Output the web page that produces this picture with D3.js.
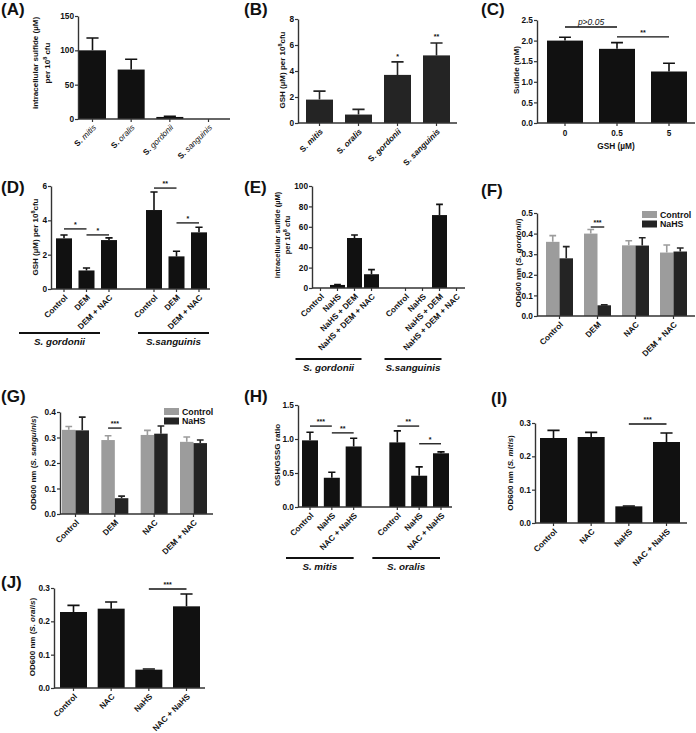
<!DOCTYPE html>
<html>
<head>
<meta charset="utf-8">
<script src="https://cdn.jsdelivr.net/npm/d3@7"></script>
<style>
body { margin: 0; background: #fff; }
svg text { font-family: "Liberation Sans", Arial, sans-serif; font-weight: bold; fill: #111; }
</style>
</head>
<body>
<script>
// ---- data ----
var species = ["mitis", "oralis", "gordonii", "sanguinis"];
var sulfideMean = [100, 72, 3, 0];
var sulfideSem = [18, 15, 1, 0];
var gshMean = [1.8, 0.65, 3.7, 5.2];
var gshSem = [0.65, 0.4, 1.0, 0.95];

var gshDose = ["0", "0.5", "5"];
var sulfideByGsh = [2.0, 1.8, 1.25];
var sulfideByGshSem = [0.08, 0.15, 0.2];

var demTreat = ["Control", "DEM", "DEM + NAC"];
var gshGordonii = [2.95, 1.08, 2.85];
var gshGordoniiSem = [0.2, 0.14, 0.13];
var gshSanguinis = [4.6, 1.9, 3.3];
var gshSanguinisSem = [1.05, 0.3, 0.3];

var nahsTreat = ["Control", "NaHS", "NaHS + DEM", "NaHS + DEM + NAC"];
var sulfGordonii = [0, 3, 49, 13.5];
var sulfGordoniiSem = [0, 0.5, 3, 4.5];
var sulfSanguinis = [0, 0, 71.5, 0];
var sulfSanguinisSem = [0, 0, 10.5, 0];

var odGroups = ["Control", "DEM", "NAC", "DEM + NAC"];
var odSeries = ["Control", "NaHS"];
var odGordCtrl = [0.36, 0.40, 0.343, 0.308];
var odGordCtrlSem = [0.03, 0.02, 0.022, 0.037];
var odGordNahs = [0.28, 0.052, 0.342, 0.313];
var odGordNahsSem = [0.057, 0.002, 0.038, 0.017];
var odSangCtrl = [0.33, 0.29, 0.31, 0.283];
var odSangCtrlSem = [0.013, 0.017, 0.018, 0.019];
var odSangNahs = [0.328, 0.062, 0.315, 0.278];
var odSangNahsSem = [0.052, 0.008, 0.03, 0.012];

var ratioTreat = ["Control", "NaHS", "NAC + NaHS"];
var ratioMitis = [0.98, 0.43, 0.89];
var ratioMitisSem = [0.12, 0.08, 0.12];
var ratioOralis = [0.95, 0.46, 0.79];
var ratioOralisSem = [0.17, 0.13, 0.02];

var rescueTreat = ["Control", "NAC", "NaHS", "NAC + NaHS"];
var odMitis = [0.255, 0.258, 0.05, 0.243];
var odMitisSem = [0.023, 0.014, 0.001, 0.027];
var odOralis = [0.228, 0.238, 0.055, 0.245];
var odOralisSem = [0.02, 0.02, 0.002, 0.037];

var black = "#111", dark = "#242424", grey = "#9c9c9c";

var svg = d3.select("body").append("svg").attr("width", 696).attr("height", 733);
svg.append("rect").attr("width", 696).attr("height", 733).attr("fill", "#fff");

// rich text: parts = [[text, kind]], kind: "i" italic, "s" superscript, "l" light italic
function rich(t, parts) {
  var shifted = false;
  parts.forEach(function(p) {
    var ts = t.append("tspan").text(p[0]);
    if (p[1] == "i") ts.style("font-style", "italic");
    if (p[1] == "l") ts.style("font-style", "italic").style("font-weight", "normal");
    if (p[1] == "s") { ts.attr("dy", -3).attr("font-size", 5.5); shifted = true; }
    else if (shifted) { ts.attr("dy", 3); shifted = false; }
  });
}

function panel(o) {
  var g = svg.append("g");
  var y = d3.scaleLinear().domain([0, o.max]).range([o.y0, o.yTop]);
  var s = (o.right - o.left - o.bw) / (o.n - 1);
  var x = d3.scaleBand().domain(d3.range(o.n)).range([o.left, o.right]).paddingInner(1 - o.bw / s).paddingOuter(0);
  var sub = o.sub || 1, w = x.bandwidth() / sub;
  function cx(i, k) { return x(i) + (k == null ? x.bandwidth() / 2 : w * (k + 0.5)); }

  o.series.forEach(function(ser, k) {
    var kk = sub > 1 ? k : null;
    var pts = ser.slots.map(function(sl, j) { return {slot: sl, v: ser.v[j], e: ser.e[j]}; })
      .filter(function(d) { return d.v > 0; });
    g.selectAll(null).data(pts).join("rect")
      .attr("x", function(d) { return sub > 1 ? x(d.slot) + w * k : x(d.slot); })
      .attr("width", w)
      .attr("y", function(d) { return y(d.v); })
      .attr("height", function(d) { return o.y0 - y(d.v); })
      .attr("fill", ser.color);
    var cap = w * (o.cap || 0.45);
    g.selectAll(null).data(pts.filter(function(d) { return d.e > 0; })).join("path")
      .attr("d", function(d) {
        var c = cx(d.slot, kk), t = y(d.v + d.e);
        return "M" + c + "," + y(d.v) + "V" + t + "M" + (c - cap / 2) + "," + t + "H" + (c + cap / 2);
      })
      .attr("stroke", ser.color).attr("stroke-width", 1.6).attr("fill", "none");
  });

  // y axis
  var ya = g.append("g").attr("transform", "translate(" + o.x0 + ",0)")
    .call(d3.axisLeft(y).tickValues(o.ticks).tickFormat(o.fmt).tickSize(3).tickSizeOuter(0));
  ya.attr("font-family", null).attr("font-size", 8.3);
  ya.select(".domain").attr("stroke", "#333").attr("stroke-width", 1.4);
  ya.selectAll(".tick line").attr("stroke", "#333").attr("stroke-width", 1.2);
  ya.selectAll(".tick text").attr("x", -4).attr("fill", "#111");

  // x axis
  g.append("line").attr("x1", o.x0).attr("x2", o.x1).attr("y1", o.y0).attr("y2", o.y0)
    .attr("stroke", "#333").attr("stroke-width", 1.4);
  g.selectAll(null).data(o.labels).join("line")
    .attr("x1", function(d) { return cx(d.slot); }).attr("x2", function(d) { return cx(d.slot); })
    .attr("y1", o.y0).attr("y2", o.y0 + 3).attr("stroke", "#333").attr("stroke-width", 1.2);
  o.labels.forEach(function(d) {
    var t = g.append("text").attr("font-size", 8.2);
    if (o.flat) {
      t.attr("x", cx(d.slot)).attr("y", o.y0 + 13).attr("text-anchor", "middle");
    } else {
      t.attr("text-anchor", "end").attr("dy", "0.35em")
        .attr("transform", "translate(" + (cx(d.slot) + 2) + "," + (o.y0 + 7) + ") rotate(-45)");
    }
    rich(t, d.parts);
  });
  if (o.xTitle) {
    var xt = g.append("text").attr("font-size", 8.3).attr("text-anchor", "middle")
      .attr("x", (o.x0 + o.x1) / 2).attr("y", o.y0 + 26);
    rich(xt, o.xTitle);
  }

  // y title
  o.title.lines.forEach(function(line, i) {
    var t = g.append("text").attr("font-size", o.title.size || 8).attr("text-anchor", "middle")
      .attr("transform", "translate(" + o.title.x[i] + "," + o.title.y + ") rotate(-90)");
    rich(t, line);
  });

  // significance brackets
  (o.sig || []).forEach(function(a) {
    var yy = y(a.v), xa = cx(a.a[0], a.a[1]), xb = cx(a.b[0], a.b[1]);
    g.append("line").attr("x1", xa).attr("x2", xb).attr("y1", yy).attr("y2", yy)
      .attr("stroke", "#111").attr("stroke-width", 1.3);
    var t = g.append("text").attr("x", (xa + xb) / 2).attr("y", yy - 2).attr("text-anchor", "middle")
      .attr("font-size", a.italic ? 8.5 : 7);
    if (a.italic) t.style("font-style", "italic").style("font-weight", "normal");
    t.text(a.label);
  });
  // stars above bars
  (o.stars || []).forEach(function(a) {
    g.append("text").attr("x", cx(a.slot)).attr("y", y(a.v)).attr("text-anchor", "middle")
      .attr("font-size", 7).text(a.label);
  });

  // group underlines
  (o.groups || []).forEach(function(gr) {
    var xa = cx(gr.from) + gr.dl, xb = cx(gr.to) + gr.dr;
    g.append("line").attr("x1", xa).attr("x2", xb).attr("y1", o.y0 + gr.dy).attr("y2", o.y0 + gr.dy)
      .attr("stroke", "#111").attr("stroke-width", 1.8);
    g.append("text").attr("x", (xa + xb) / 2).attr("y", o.y0 + gr.dy + 12).attr("text-anchor", "middle")
      .attr("font-size", 9.8).style("font-style", "italic").text(gr.text);
  });

  // legend
  if (o.legend) {
    o.legend.names.forEach(function(nm, i) {
      var ly = o.legend.y + i * 9.5;
      g.append("rect").attr("x", o.legend.x).attr("y", ly).attr("width", 15).attr("height", 7)
        .attr("fill", o.legend.colors[i]);
      g.append("text").attr("x", o.legend.x + 18).attr("y", ly + 6.5).attr("font-size", 8.8).text(nm);
    });
  }
}

function panelLabel(txt, x, y) {
  svg.append("text").attr("x", x).attr("y", y).attr("font-size", 17).text(txt);
}

var f0 = d3.format("d"), f1 = d3.format(".1f");
var speciesParts = species.map(function(s, i) { return {slot: i, parts: [["S. ", ""], [s, "i"]]}; });

// (A)
panel({x0: 78, x1: 230, y0: 119, yTop: 16, max: 150, ticks: [0, 50, 100, 150], fmt: f0,
  n: 4, left: 79, right: 222, bw: 27,
  series: [{slots: [0, 1, 2, 3], v: sulfideMean, e: sulfideSem, color: black}],
  labels: species.map(function(s, i) { return {slot: i, parts: [["S. ", ""], [s, "l"]]}; }),
  title: {x: [38, 50], y: 63, lines: [[["intracellular sulfide (\u00b5M)"]], [["per 10"], ["8", "s"], [" cfu"]]]}
});
// (B)
panel({x0: 298, x1: 457, y0: 123, yTop: 19, max: 8, ticks: [0, 2, 4, 6, 8], fmt: f0,
  n: 4, left: 306, right: 450, bw: 27,
  series: [{slots: [0, 1, 2, 3], v: gshMean, e: gshSem, color: dark}],
  labels: speciesParts,
  title: {x: [285], y: 70, lines: [[["GSH (\u00b5M) per 10"], ["8", "s"], ["cfu"]]]},
  stars: [{slot: 2, v: 4.95, label: "*"}, {slot: 3, v: 6.5, label: "**"}]
});
// (C)
panel({x0: 537, x1: 695, y0: 123, yTop: 20, max: 2.5, ticks: [0, 0.5, 1, 1.5, 2, 2.5], fmt: f1,
  n: 3, left: 547, right: 687, bw: 36, flat: true, cap: 0.33,
  series: [{slots: [0, 1, 2], v: sulfideByGsh, e: sulfideByGshSem, color: black}],
  labels: gshDose.map(function(d, i) { return {slot: i, parts: [[d]]}; }),
  xTitle: [["GSH (\u00b5M)"]],
  title: {x: [519], y: 70, lines: [[["Sulfide (mM)"]]]},
  sig: [{a: [0], b: [1], v: 2.33, label: "p>0.05", italic: true}, {a: [1], b: [2], v: 2.09, label: "**"}]
});
// (D)
panel({x0: 51, x1: 210, y0: 289, yTop: 186, max: 6, ticks: [0, 2, 4, 6], fmt: f0,
  n: 7, left: 56, right: 207, bw: 16,
  series: [{slots: [0, 1, 2], v: gshGordonii, e: gshGordoniiSem, color: black},
           {slots: [4, 5, 6], v: gshSanguinis, e: gshSanguinisSem, color: black}],
  labels: [0, 1, 2, 4, 5, 6].map(function(sl, i) { return {slot: sl, parts: [[demTreat[i % 3]]]}; }),
  title: {x: [38], y: 237, lines: [[["GSH (\u00b5M) per 10"], ["8", "s"], ["cfu"]]]},
  sig: [{a: [0], b: [1], v: 3.5, label: "*"}, {a: [1], b: [2], v: 3.15, label: "*"},
        {a: [4], b: [5], v: 5.88, label: "**"}, {a: [5], b: [6], v: 3.85, label: "*"}],
  groups: [{from: 0, to: 2, dl: -45, dr: -9, dy: 44, text: "S. gordonii"},
           {from: 4, to: 6, dl: -16, dr: 10, dy: 44, text: "S.sanguinis"}]
});
// (E)
panel({x0: 312, x1: 465, y0: 288, yTop: 186, max: 100, ticks: [0, 20, 40, 60, 80, 100], fmt: f0,
  n: 9, left: 313, right: 464, bw: 15,
  series: [{slots: [0, 1, 2, 3], v: sulfGordonii, e: sulfGordoniiSem, color: black},
           {slots: [5, 6, 7, 8], v: sulfSanguinis, e: sulfSanguinisSem, color: black}],
  labels: [0, 1, 2, 3, 5, 6, 7, 8].map(function(sl, i) { return {slot: sl, parts: [[nahsTreat[i % 4]]]}; }),
  title: {x: [280, 290], y: 235, size: 7.5, lines: [[["intracellular sulfide (\u00b5M)"]], [["per 10"], ["8", "s"], [" cfu"]]]},
  groups: [{from: 0, to: 3, dl: -25, dr: -10, dy: 71, text: "S. gordonii"},
           {from: 5, to: 8, dl: -21, dr: -15, dy: 71, text: "S.sanguinis"}]
});
// (F)
panel({x0: 537, x1: 695, y0: 316, yTop: 213, max: 0.5, ticks: [0, 0.1, 0.2, 0.3, 0.4, 0.5], fmt: f1,
  n: 4, left: 546, right: 687, bw: 27, sub: 2, cap: 0.5,
  series: [{slots: [0, 1, 2, 3], v: odGordCtrl, e: odGordCtrlSem, color: grey},
           {slots: [0, 1, 2, 3], v: odGordNahs, e: odGordNahsSem, color: dark}],
  labels: odGroups.map(function(d, i) { return {slot: i, parts: [[d]]}; }),
  title: {x: [521], y: 263, lines: [[["OD600 nm ("], ["S. gordonii", "i"], [")"]]]},
  sig: [{a: [1, 0], b: [1, 1], v: 0.432, label: "***"}],
  legend: {x: 642, y: 211, names: odSeries, colors: [grey, dark]}
});
// (G)
panel({x0: 60, x1: 213, y0: 514, yTop: 412, max: 0.4, ticks: [0, 0.1, 0.2, 0.3, 0.4], fmt: f1,
  n: 4, left: 62, right: 207, bw: 27, sub: 2, cap: 0.5,
  series: [{slots: [0, 1, 2, 3], v: odSangCtrl, e: odSangCtrlSem, color: grey},
           {slots: [0, 1, 2, 3], v: odSangNahs, e: odSangNahsSem, color: dark}],
  labels: odGroups.map(function(d, i) { return {slot: i, parts: [[d]]}; }),
  title: {x: [36], y: 463, lines: [[["OD600 nm ("], ["S. sanguinis", "i"], [")"]]]},
  sig: [{a: [1, 0], b: [1, 1], v: 0.337, label: "***"}],
  legend: {x: 164, y: 408, names: odSeries, colors: [grey, dark]}
});
// (H)
panel({x0: 298, x1: 452, y0: 507, yTop: 405, max: 1.5, ticks: [0, 0.5, 1, 1.5], fmt: f1,
  n: 7, left: 302, right: 449, bw: 16,
  series: [{slots: [0, 1, 2], v: ratioMitis, e: ratioMitisSem, color: black},
           {slots: [4, 5, 6], v: ratioOralis, e: ratioOralisSem, color: black}],
  labels: [0, 1, 2, 4, 5, 6].map(function(sl, i) { return {slot: sl, parts: [[ratioTreat[i % 3]]]}; }),
  title: {x: [280], y: 455, lines: [[["GSH/GSSG ratio"]]]},
  sig: [{a: [0], b: [1], v: 1.19, label: "***"}, {a: [1], b: [2], v: 1.09, label: "**"},
        {a: [4], b: [5], v: 1.19, label: "**"}, {a: [5], b: [6], v: 0.93, label: "*"}],
  groups: [{from: 0, to: 2, dl: -24, dr: 0, dy: 51, text: "S. mitis"},
           {from: 4, to: 6, dl: -25, dr: -1, dy: 51, text: "S. oralis"}]
});
// (I)
panel({x0: 535, x1: 687, y0: 523, yTop: 423, max: 0.3, ticks: [0, 0.1, 0.2, 0.3], fmt: f1,
  n: 4, left: 540, right: 680, bw: 27,
  series: [{slots: [0, 1, 2, 3], v: odMitis, e: odMitisSem, color: black}],
  labels: rescueTreat.map(function(d, i) { return {slot: i, parts: [[d]]}; }),
  title: {x: [513], y: 473, lines: [[["OD600 nm ("], ["S. mitis", "i"], [")"]]]},
  sig: [{a: [2], b: [3], v: 0.297, label: "***"}]
});
// (J)
panel({x0: 54, x1: 205, y0: 688, yTop: 588, max: 0.3, ticks: [0, 0.1, 0.2, 0.3], fmt: f1,
  n: 4, left: 60, right: 200, bw: 27,
  series: [{slots: [0, 1, 2, 3], v: odOralis, e: odOralisSem, color: black}],
  labels: rescueTreat.map(function(d, i) { return {slot: i, parts: [[d]]}; }),
  title: {x: [35], y: 637, lines: [[["OD600 nm ("], ["S. oralis", "i"], [")"]]]},
  sig: [{a: [2], b: [3], v: 0.297, label: "***"}]
});

panelLabel("(A)", 1, 15);
panelLabel("(B)", 244, 15);
panelLabel("(C)", 481, 15);
panelLabel("(D)", 1, 193);
panelLabel("(E)", 244, 193);
panelLabel("(F)", 481, 196);
panelLabel("(G)", 1, 402);
panelLabel("(H)", 244, 402);
panelLabel("(I)", 491, 404);
panelLabel("(J)", 1, 588);
</script>
</body>
</html>
